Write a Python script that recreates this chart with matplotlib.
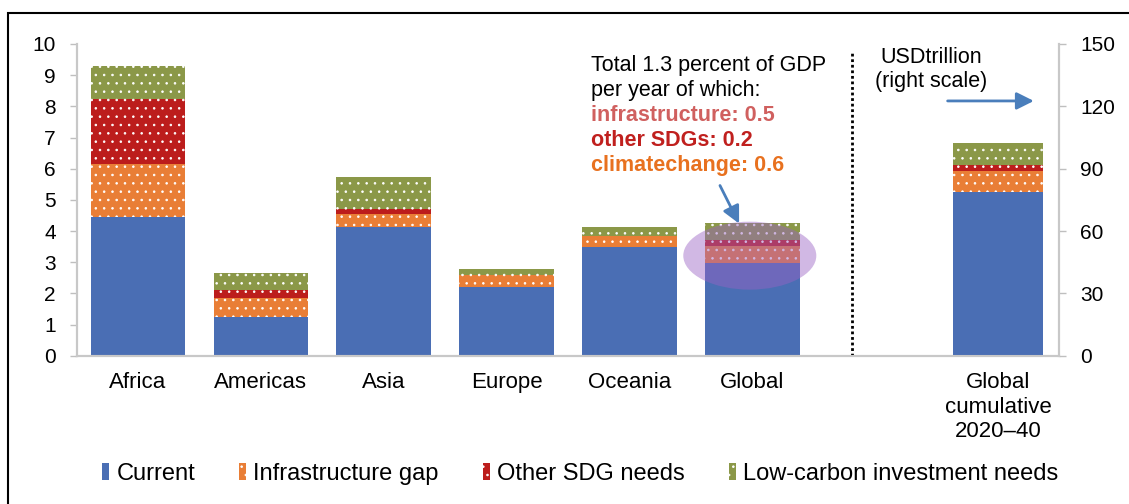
import numpy as np
import matplotlib.pyplot as plt
from matplotlib.patches import Ellipse, Rectangle, Patch

plt.rcParams['font.family'] = ['Liberation Sans', 'DejaVu Sans']
plt.rcParams['hatch.linewidth'] = 0.6

regions = ['Africa', 'Americas', 'Asia', 'Europe', 'Oceania', 'Global']
current = [4.44, 1.25, 4.12, 2.21, 3.50, 2.96]
infra_gap = [1.70, 0.60, 0.42, 0.38, 0.34, 0.57]
other_sdg = [2.09, 0.27, 0.16, 0.00, 0.00, 0.18]
low_carbon = [1.07, 0.52, 1.04, 0.18, 0.30, 0.56]

# global cumulative 2020-40, USD trillion (right scale)
cum_label = 'Global\ncumulative\n2020\u201340'
cum_values = [78.6, 10.3, 2.7, 10.9]

series_names = ['Current', 'Infrastructure gap', 'Other SDG needs', 'Low-carbon investment needs']
colors = ['#4a6eb4', '#e97e36', '#bc1d1c', '#8b9848']
hatches = [None, '..', '..', '..']

fig = plt.figure(figsize=(11.29, 5.04), dpi=100)
ax = fig.add_axes([0.0679, 0.2942, 0.8704, 0.6185])
ax2 = ax.twinx()

x = np.arange(len(regions))
stack = [current, infra_gap, other_sdg, low_carbon]
bottom = np.zeros(len(regions))
for vals, col, h in zip(stack, colors, hatches):
    ax.bar(x, vals, width=0.77, bottom=bottom, color=col, hatch=h,
           edgecolor='white' if h else col, linewidth=0, zorder=2)
    bottom += np.array(vals)

cum_x = len(regions) + 1
b = 0
for v, col, h in zip(cum_values, colors, hatches):
    ax2.bar(cum_x, v, width=0.73, bottom=b, color=col, hatch=h,
            edgecolor='white' if h else col, linewidth=0, zorder=2)
    b += v

ax.set_xlim(-0.5, cum_x + 0.5)
ax.set_ylim(0, 10)
ax2.set_ylim(0, 150)
ax.set_yticks(range(0, 11))
ax2.set_yticks(range(0, 151, 30))
ax.set_xticks(list(x) + [cum_x])
ax.set_xticklabels(regions + [cum_label], fontsize=16)
ax.tick_params(axis='x', length=0, pad=12)
ax.tick_params(axis='y', length=5, width=1, color='#bfbfbf', labelsize=15, pad=10)
ax2.tick_params(axis='y', length=5, width=1, color='#bfbfbf', labelsize=15, pad=10)

for a in (ax, ax2):
    a.spines['top'].set_visible(False)
    for s in ('left', 'right', 'bottom'):
        a.spines[s].set_color('#c8c8c8')
        a.spines[s].set_linewidth(1.5)

# divider between regions and cumulative
ax.axvline(5.81, ymin=0, ymax=0.975, color='black', lw=2, ls=(0, (1, 1)), zorder=3)

# highlight on global bar
ax.add_patch(Ellipse((4.98, 3.21), 1.083, 2.18, facecolor='#9a62c4', alpha=0.45,
                     edgecolor='none', zorder=5))

notes = [('Total 1.3 percent of GDP', 'black', 'normal'),
         ('per year of which:', 'black', 'normal'),
         ('infrastructure: 0.5', '#d0605f', 'bold'),
         ('other SDGs: 0.2', '#c0201e', 'bold'),
         ('climatechange: 0.6', '#e8711f', 'bold')]
note_y = [9.31, 8.50, 7.70, 6.90, 6.10]
for (txt, c, w), yy in zip(notes, note_y):
    ax.text(3.69, yy, txt, color=c, fontweight=w, fontsize=15.5, ha='left', va='center', zorder=6)

ax.annotate('', xy=(4.903, 4.16), xytext=(4.727, 5.54),
            arrowprops=dict(arrowstyle='-|>', color='#4a7ebb', lw=2, mutation_scale=26), zorder=6)

ax2.text(6.455, 143.3, 'USDtrillion', fontsize=15.5, ha='center', va='center')
ax2.text(6.455, 131.9, '(right scale)', fontsize=15.5, ha='center', va='center')
ax2.annotate('', xy=(7.315, 122.6), xytext=(6.568, 122.6),
             arrowprops=dict(arrowstyle='-|>', color='#4a7ebb', lw=2, mutation_scale=26))

handles = [Patch(facecolor=c, hatch=h, edgecolor='white' if h else c, linewidth=0)
           for c, h in zip(colors, hatches)]
fig.legend(handles, series_names, loc='center', bbox_to_anchor=(0.514, 0.0595), ncol=4,
           frameon=False, fontsize=17, handlelength=0.3, handleheight=0.7,
           handletextpad=0.3, columnspacing=1.87)

# outer frame (top and left edges visible)
fig.add_artist(Rectangle((8.3 / 1129, -0.05), 1.2, 0.9748 + 0.05, transform=fig.transFigure,
                         fill=False, edgecolor='black', linewidth=1.5))

fig.savefig('out.png', dpi=100)
